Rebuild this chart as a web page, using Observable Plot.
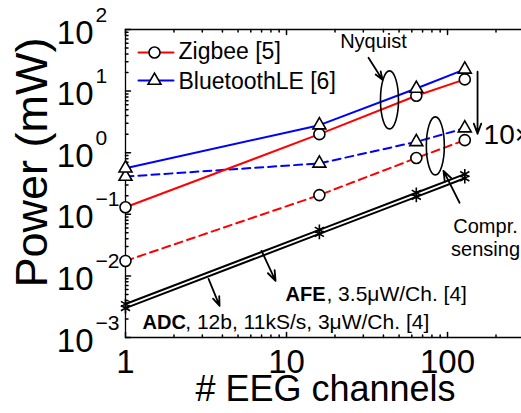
<!DOCTYPE html>
<html><head><meta charset="utf-8">
<script src="https://cdn.jsdelivr.net/npm/d3@7"></script>
<script src="https://cdn.jsdelivr.net/npm/@observablehq/plot@0.6"></script>
<style>
body{margin:0;background:#fff;overflow:hidden}
#chart svg{display:block}
</style></head><body><div id="chart"></div>
<script>
// ---- data ----
const channels = [1, 16, 64, 128];
const zigbee   = [0.13, 2.0, 8.4, 15.5];
const ble      = [0.56, 2.8, 11, 22.5];
const zigbeeCS = [0.0175, 0.205, 0.82, 1.6];
const bleCS    = [0.41, 0.67, 1.5, 2.5];
const afe      = [0.0035, 0.056, 0.224, 0.448];
const adc      = [0.003, 0.048, 0.192, 0.384];

const xMajor = [1, 10, 100];
const xMinor = [2,3,4,5,6,7,8,9,20,30,40,50,60,70,80,90,200];
const yMajor = [1e-3, 1e-2, 1e-1, 1, 10, 100];
const yExp   = ["\u22123", "\u22122", "\u22121", "0", "1", "2"];
const yMinor = yMajor.slice(0, -1).flatMap(d => [2,3,4,5,6,7,8,9].map(k => k * d));

const legendNames = ["Zigbee [5]", "BluetoothLE [6]"];

// annotations (data coordinates)
const ellipses = [{x: 43.6, y: 7.2}, {x: 84, y: 1.29}];
const arrows = [
  {x1: 32.3, y1: 34.8, x2: 39.5, y2: 15.2},
  {x1: 118.8, y1: 0.154, x2: 94.4, y2: 0.508},
  {x1: 153.6, y1: 20.6, x2: 153.6, y2: 2.03},
  {x1: 7.0, y1: 0.0255, x2: 8.55, y2: 0.0083},
  {x1: 3.28, y1: 0.00897, x2: 3.84, y2: 0.00327}
];

// ---- shapes ----
const vUp = {draw(c, l) { c.moveTo(0, 0); c.lineTo(0, -l); }};
const vDown = {draw(c, l) { c.moveTo(0, 0); c.lineTo(0, l); }};
const hRight = {draw(c, l) { c.moveTo(0, 0); c.lineTo(l, 0); }};
const ellipseSym = {draw(c) {
  const rx = 9, ry = 29, k = 0.5523;
  c.moveTo(rx, 0);
  c.bezierCurveTo(rx, ry * k, rx * k, ry, 0, ry);
  c.bezierCurveTo(-rx * k, ry, -rx, ry * k, -rx, 0);
  c.bezierCurveTo(-rx, -ry * k, -rx * k, -ry, 0, -ry);
  c.bezierCurveTo(rx * k, -ry, rx, -ry * k, rx, 0);
  c.closePath();
}};

const RED = "#ff0000", BLUE = "#0000ff";
const ser = (arr) => ({x: (d) => d, y: (d, i) => arr[i]});

const chart = Plot.plot({
  width: 521, height: 413,
  marginLeft: 125, marginRight: 0, marginTop: 29, marginBottom: 76,
  x: {type: "log", domain: [1, 288], axis: null},
  y: {type: "log", domain: [1e-3, 100], axis: null},
  style: {fontFamily: "'Liberation Sans', Arial, Helvetica, sans-serif", background: "white", color: "black"},
  marks: [
    // frame
    Plot.ruleX([1], {stroke: "black", strokeWidth: 1.3}),
    Plot.ruleY([1e-3], {stroke: "black", strokeWidth: 1.3}),
    Plot.ruleY([100], {stroke: "black", strokeWidth: 1.3}),
    // ticks
    Plot.vector(xMajor, {x: d => d, frameAnchor: "bottom", length: 5, shape: vUp, anchor: "start", stroke: "black"}),
    Plot.vector(xMinor, {x: d => d, frameAnchor: "bottom", length: 2.5, shape: vUp, anchor: "start", stroke: "black"}),
    Plot.vector(xMajor, {x: d => d, frameAnchor: "top", length: 5, shape: vDown, anchor: "start", stroke: "black"}),
    Plot.vector(xMinor, {x: d => d, frameAnchor: "top", length: 2.5, shape: vDown, anchor: "start", stroke: "black"}),
    Plot.vector(yMajor, {y: d => d, frameAnchor: "left", length: 5, shape: hRight, anchor: "start", stroke: "black"}),
    Plot.vector(yMinor, {y: d => d, frameAnchor: "left", length: 2.5, shape: hRight, anchor: "start", stroke: "black"}),
    // tick labels
    Plot.text(xMajor, {x: d => d, frameAnchor: "bottom", dy: 35, lineAnchor: "bottom", text: d => String(d), fontSize: 33}),
    Plot.text(yMajor, {y: d => d, frameAnchor: "left", dx: -32, dy: 14, textAnchor: "end", lineAnchor: "bottom", text: () => "10", fontSize: 33}),
    Plot.text(yMajor, {y: d => d, frameAnchor: "left", dx: -30, dy: -8, textAnchor: "start", lineAnchor: "bottom", text: (d, i) => yExp[i], fontSize: 21}),
    // axis labels
    Plot.text(["Power (mW)"], {frameAnchor: "left", dx: -79, dy: -21, rotate: -90, fontSize: 45, lineAnchor: "bottom", textAnchor: "middle"}),
    Plot.text(["# EEG channels"], {frameAnchor: "bottom", dx: 2, dy: 63, fontSize: 36, lineAnchor: "bottom", textAnchor: "middle"}),
    // series lines
    Plot.line(channels, {...ser(adc), stroke: "black", strokeWidth: 2}),
    Plot.line(channels, {...ser(afe), stroke: "black", strokeWidth: 2}),
    Plot.line(channels, {...ser(zigbeeCS), stroke: RED, strokeWidth: 2, strokeDasharray: "8,5"}),
    Plot.line(channels, {...ser(bleCS), stroke: BLUE, strokeWidth: 2, strokeDasharray: "8,5"}),
    Plot.line(channels, {...ser(zigbee), stroke: RED, strokeWidth: 2}),
    Plot.line(channels, {...ser(ble), stroke: BLUE, strokeWidth: 2}),
    // markers
    Plot.dot(channels, {...ser(adc), symbol: "asterisk", r: 5, stroke: "black", strokeWidth: 1.6}),
    Plot.dot(channels, {...ser(afe), symbol: "asterisk", r: 5, stroke: "black", strokeWidth: 1.6}),
    Plot.dot(channels, {...ser(zigbeeCS), symbol: "circle", r: 5.5, stroke: "black", fill: "white", strokeWidth: 1.6}),
    Plot.dot(channels, {...ser(zigbee), symbol: "circle", r: 5.5, stroke: "black", fill: "white", strokeWidth: 1.6}),
    Plot.dot(channels, {...ser(bleCS), symbol: "triangle", r: 4.8, stroke: "black", fill: "white", strokeWidth: 1.6}),
    Plot.dot(channels, {...ser(ble), symbol: "triangle", r: 4.8, stroke: "black", fill: "white", strokeWidth: 1.6}),
    // annotations
    Plot.dot(ellipses, {x: "x", y: "y", symbol: ellipseSym, r: 5, stroke: "black", fill: "none", strokeWidth: 1.6}),
    Plot.arrow(arrows, {x1: "x1", y1: "y1", x2: "x2", y2: "y2", stroke: "black", strokeWidth: 1.8, headLength: 9, headAngle: 40}),
    Plot.text(["Nyquist"], {x: 34.7, y: 50.5, fontSize: 20, lineAnchor: "bottom", textAnchor: "middle"}),
    Plot.text(["10\u00d7"], {x: 167.4, y: 1.395, fontSize: 28, lineAnchor: "bottom", textAnchor: "start"}),
    Plot.text(["Compr.\nsensing"], {x: 172.2, y: 0.0212, fontSize: 20, lineHeight: 1.15, lineAnchor: "bottom", textAnchor: "middle"}),
    Plot.text(["AFE"], {x: 9.86, y: 0.00394, fontSize: 20, fontWeight: "bold", lineAnchor: "bottom", textAnchor: "start"}),
    Plot.text([", 3.5\u03bcW/Ch. [4]"], {x: 17.7, y: 0.00394, fontSize: 21, lineAnchor: "bottom", textAnchor: "start"}),
    Plot.text(["ADC"], {x: 1.275, y: 0.001384, fontSize: 20, fontWeight: "bold", lineAnchor: "bottom", textAnchor: "start"}),
    Plot.text([", 12b, 11kS/s, 3\u03bcW/Ch. [4]"], {x: 2.35, y: 0.001384, fontSize: 21, lineAnchor: "bottom", textAnchor: "start"}),
    // legend
    Plot.vector([0], {frameAnchor: "top-left", dx: 13, dy: 23, length: 35, shape: hRight, anchor: "start", stroke: RED, strokeWidth: 2}),
    Plot.dot([0], {frameAnchor: "top-left", dx: 29, dy: 23, symbol: "circle", r: 5.5, stroke: "black", fill: "white", strokeWidth: 1.6}),
    Plot.text([legendNames[0]], {frameAnchor: "top-left", dx: 53, dy: 29, fontSize: 23, lineAnchor: "bottom", textAnchor: "start"}),
    Plot.vector([0], {frameAnchor: "top-left", dx: 13, dy: 51, length: 35, shape: hRight, anchor: "start", stroke: BLUE, strokeWidth: 2}),
    Plot.dot([0], {frameAnchor: "top-left", dx: 29, dy: 51, symbol: "triangle", r: 4.8, stroke: "black", fill: "white", strokeWidth: 1.6}),
    Plot.text([legendNames[1]], {frameAnchor: "top-left", dx: 53, dy: 59, fontSize: 23, lineAnchor: "bottom", textAnchor: "start"})
  ]
});
document.getElementById("chart").appendChild(chart);
</script>
</body></html>
